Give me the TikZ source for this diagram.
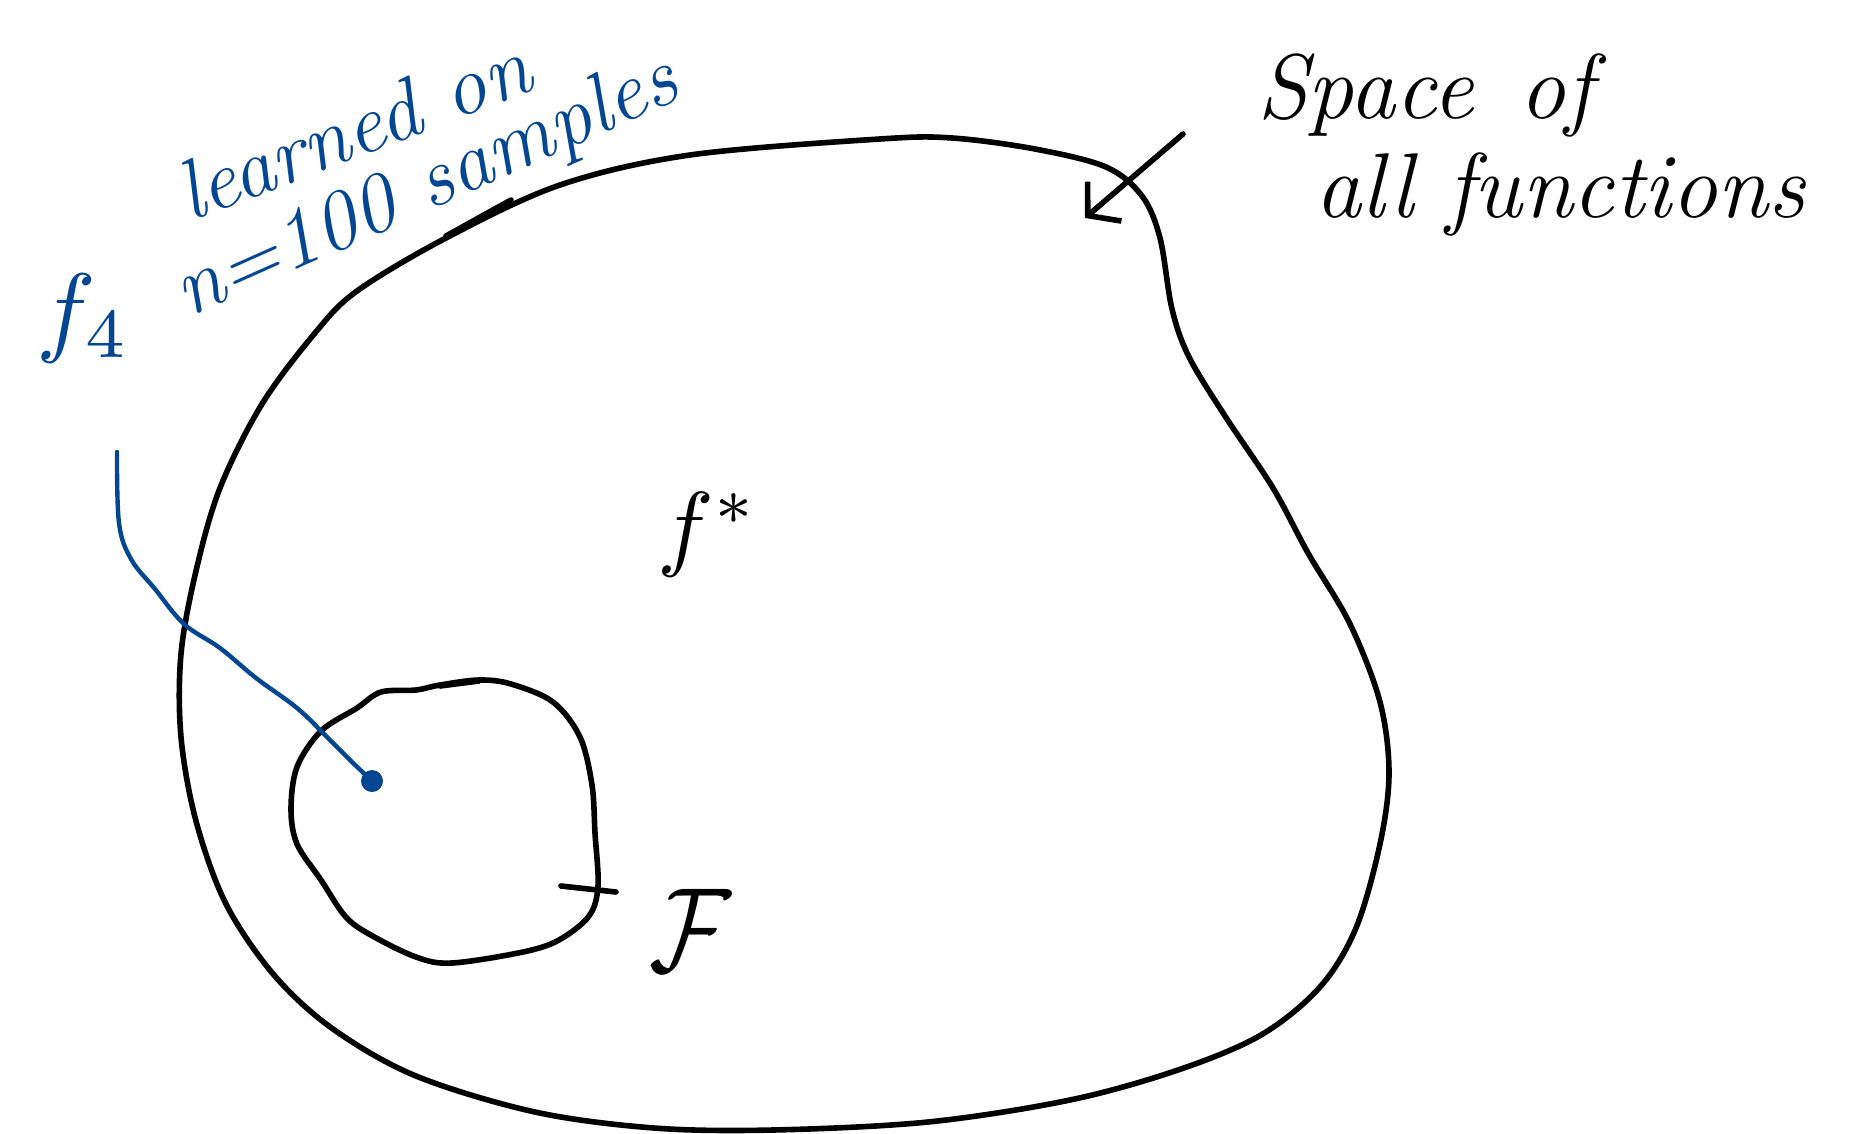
\documentclass[tikz,border=0pt]{standalone}
\usepackage{fontspec}
\usetikzlibrary{arrows.meta}
\definecolor{inkblue}{RGB}{4,70,145}
\begin{document}
\begin{tikzpicture}[x=1pt,y=-1pt,
  ink/.style={line width=5.6pt, line cap=round, line join=round},
  blueink/.style={line width=4.4pt, draw=inkblue, line cap=round, line join=round},
  handblack/.style={font=\fontsize{92}{100}\selectfont\itshape\addfontfeature{LetterSpace=6}, inner sep=0pt},
  handblue/.style={font=\fontsize{84}{95}\selectfont\itshape, text=inkblue, inner sep=0pt},
  mathlab/.style={inner sep=0pt}]
\useasboundingbox (0,0) rectangle (1865,1134);
% big set: space of all functions
\draw[ink] plot[smooth cycle, tension=0.55] coordinates {
 (690,155) (880,139) (952,138) (1035,149) (1106,167) (1142,196) (1160,238)
 (1172,309) (1189,357) (1225,416) (1273,488) (1308,553) (1350,624) (1380,702)
 (1389,773) (1380,844) (1356,928) (1320,987) (1261,1035) (1178,1070) (1070,1100)
 (928,1122) (773,1130) (654,1128) (535,1112) (416,1076) (333,1029) (274,975)
 (226,904) (196,821) (181,737) (181,654) (196,571) (220,488) (262,404) (315,333)
 (357,291) (446,238) (560,185)};
\draw[ink] (446,236) -- (511,200);
% inner set F
\draw[ink] plot[smooth cycle, tension=0.55] coordinates {
 (381,692) (416,690) (440,685) (479,680) (511,684) (553,702) (580,737) (592,785)
 (595,833) (598,886) (589,916) (559,940) (523,952) (452,963) (416,957) (369,934)
 (345,916) (321,880) (297,844) (291,809) (297,767) (321,731) (357,708)};
\draw[ink] (440,686) -- (479,681);
\draw[ink] (561,886) -- (616,892);
% labels
\node[mathlab] (fstar) at (708,535) {\scalebox{9.5}{$f^{\ast}$}};
\node[mathlab] (calF) at (690,930) {\scalebox{10}[12]{$\mathcal{F}$}};
\node[handblack, anchor=base] (space) at (1425,119) {Space\hspace{0.5em}of};
\node[handblack, anchor=base, font=\fontsize{92}{100}\selectfont\itshape\addfontfeature{LetterSpace=12}] (allf) at (1560,218) {all functions};
\node[handblue, rotate=21, anchor=base west] (learned) at (190,222) {learned on};
\node[handblue, rotate=24, anchor=base west] (samples) at (188,318) {n=100 samples};
\node[mathlab, text=inkblue] (f4) at (83,318) {\scalebox{10}{$f_4$}};
% arrow to the set
\coordinate (arrstart) at (1183,134);
\coordinate (arrtip) at (1085,218);
\draw[ink, -{Straight Barb[length=22pt,width=52pt]}] (arrstart) -- (arrtip);
% blue pointer to f_4
\coordinate (bstart) at (117,452);
\node[circle, fill=inkblue, minimum size=22pt, inner sep=0pt] (dot) at (372,781) {};
\draw[blueink] plot[smooth, tension=0.6] coordinates {
 (bstart) (119,523) (131,559) (155,589) (184,624) (220,648) (256,678) (297,708)
 (327,737) (351,761) (dot.center)};
\end{tikzpicture}
\end{document}
